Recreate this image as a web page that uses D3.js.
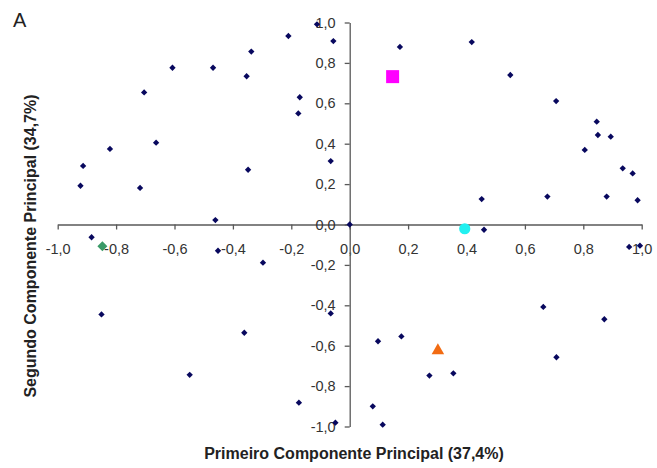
<!DOCTYPE html>
<html>
<head>
<meta charset="utf-8">
<script src="https://cdn.jsdelivr.net/npm/d3@7"></script>
<style>
  html, body { margin: 0; padding: 0; background: #fff; }
  svg { display: block; font-family: "Liberation Sans", Arial, sans-serif; }
</style>
</head>
<body>
<svg id="chart" width="657" height="468"></svg>
<script>
// Loadings of the variables on the first two principal components
const pc1 = [
  -0.607, -0.704, -0.821, -0.663, -0.913, -0.922, -0.718,
  -0.112, -0.210, -0.056, -0.337, -0.468, -0.353, -0.171, -0.176, -0.065, -0.348, -0.460, 0.000,
  0.172, 0.418, 0.452,
  0.550, 0.707, 0.846, 0.850, 0.894, 0.805, 0.935, 0.969, 0.677, 0.880, 0.986,
  -0.884, -0.850, -0.548,
  -0.451, -0.297, -0.065, -0.361, -0.174, -0.049,
  0.460, 0.097, 0.177, 0.273, 0.355, 0.079, 0.113,
  0.663, 0.872, 0.708, 0.957, 0.994
];
const pc2 = [
  0.776, 0.654, 0.374, 0.405, 0.290, 0.192, 0.181,
  0.991, 0.933, 0.908, 0.856, 0.776, 0.734, 0.630, 0.550, 0.314, 0.271, 0.022, 0.000,
  0.879, 0.903, 0.126,
  0.740, 0.611, 0.509, 0.443, 0.435, 0.369, 0.278, 0.253, 0.138, 0.138, 0.120,
  -0.063, -0.445, -0.744,
  -0.130, -0.189, -0.440, -0.536, -0.882, -0.981,
  -0.026, -0.578, -0.554, -0.748, -0.737, -0.900, -0.991,
  -0.408, -0.469, -0.657, -0.111, -0.105
];

// Highlighted groups: position, marker shape and colour
const groupNames = ["square", "circle", "triangle", "diamond"];
const groupPc1 = [0.147, 0.394, 0.302, -0.847];
const groupPc2 = [0.732, -0.021, -0.615, -0.108];
const groupColors = ["#ff00ff", "#22f0f0", "#f26b12", "#3a9a68"];

const tickValues = [-1.0, -0.8, -0.6, -0.4, -0.2, 0.0, 0.2, 0.4, 0.6, 0.8, 1.0];
const xTitle = "Primeiro Componente Principal (37,4%)";
const yTitle = "Segundo Componente Principal (34,7%)";
const panelLabel = "A";

const svg = d3.select("#chart");

const x = d3.scaleLinear().domain([-1, 1]).range([57.7, 641.7]);
const y = d3.scaleLinear().domain([-1, 1]).range([426.5, 22.5]);

// Decimal comma and plain hyphen for negative numbers
const locale = d3.formatLocale({ decimal: ",", thousands: ".", grouping: [3], currency: ["", ""], minus: "-" });
const fmt = locale.format(".1f");

const axisColor = "#595959";
const labelColor = "#333";

const xAxis = d3.axisBottom(x).tickValues(tickValues).tickFormat(fmt)
  .tickSizeInner(5).tickSizeOuter(0).tickPadding(14);
const yAxis = d3.axisLeft(y).tickValues(tickValues).tickFormat(fmt)
  .tickSizeInner(5).tickSizeOuter(0).tickPadding(9);

const gx = svg.append("g").attr("transform", `translate(0,${y(0)})`).call(xAxis);
const gy = svg.append("g").attr("transform", `translate(${x(0)},0)`).call(yAxis);

[gx, gy].forEach(g => {
  g.select(".domain").attr("stroke", axisColor).attr("stroke-width", 1.3);
  g.selectAll(".tick line").attr("stroke", axisColor).attr("stroke-width", 1.3);
  g.selectAll(".tick text").attr("fill", labelColor)
    .style("font-size", "14.5px").style("font-family", "'Liberation Sans', Arial, sans-serif");
});

// Axis titles
svg.append("text")
  .attr("x", 354).attr("y", 459)
  .attr("text-anchor", "middle")
  .style("font-size", "16px").style("font-weight", "bold")
  .attr("fill", "#222")
  .text(xTitle);

svg.append("text")
  .attr("transform", "translate(36,246) rotate(-90)")
  .attr("text-anchor", "middle")
  .style("font-size", "16px").style("font-weight", "bold")
  .attr("fill", "#222")
  .text(yTitle);

svg.append("text")
  .attr("x", 13).attr("y", 27)
  .style("font-size", "20px")
  .attr("fill", "#222")
  .text(panelLabel);

// Variable loadings as small navy diamonds
const pts = pc1.map((v, i) => ({ x: v, y: pc2[i] }));
const smallDiamond = d3.symbol().type(d3.symbolSquare).size(20)();
svg.append("g").selectAll("path")
  .data(pts).join("path")
  .attr("d", smallDiamond)
  .attr("transform", d => `translate(${x(d.x)},${y(d.y)}) rotate(45)`)
  .attr("fill", "#08085e");

// Highlighted group markers
const trianglePath = (w, h) => `M0,${-h / 2}L${w / 2},${h / 2}L${-w / 2},${h / 2}Z`;
const groups = groupNames.map((n, i) => ({ name: n, x: groupPc1[i], y: groupPc2[i], color: groupColors[i] }));
svg.append("g").selectAll("path")
  .data(groups).join("path")
  .attr("d", d => {
    if (d.name === "square") return d3.symbol().type(d3.symbolSquare).size(13 * 13)();
    if (d.name === "circle") return d3.symbol().type(d3.symbolCircle).size(Math.PI * 5.6 * 5.6)();
    if (d.name === "triangle") return trianglePath(12.5, 11);
    return d3.symbol().type(d3.symbolSquare).size(50)();
  })
  .attr("transform", d => `translate(${x(d.x)},${y(d.y)})` + (d.name === "diamond" ? " rotate(45)" : ""))
  .attr("fill", d => d.color);
</script>
</body>
</html>
